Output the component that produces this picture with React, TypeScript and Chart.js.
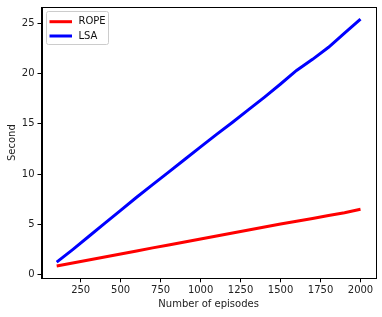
import React, { useEffect, useRef } from "react";
import { Chart, registerables } from "chart.js";

Chart.register(...registerables);

const episodes = [100, 200, 300, 400, 500, 600, 700, 800, 900, 1000, 1100, 1200, 1300, 1400, 1500, 1600, 1700, 1800, 1900, 2000];
const ropeSeconds = [0.88, 1.17, 1.47, 1.77, 2.07, 2.37, 2.67, 2.96, 3.25, 3.55, 3.85, 4.15, 4.45, 4.75, 5.05, 5.32, 5.6, 5.88, 6.17, 6.5];
const lsaSeconds = [1.25, 2.5, 3.8, 5.1, 6.4, 7.7, 8.95, 10.2, 11.45, 12.7, 13.95, 15.15, 16.4, 17.65, 18.95, 20.3, 21.4, 22.6, 24.0, 25.4];
const xTicks = [250, 500, 750, 1000, 1250, 1500, 1750, 2000];
const yTicks = [0, 5, 10, 15, 20, 25];
const seriesNames = ["ROPE", "LSA"];

const FONT = "'DejaVu Sans', sans-serif";

const framePlugin = {
  id: "frame",
  afterDatasetsDraw(chart: any) {
    const { ctx, chartArea } = chart;
    ctx.save();
    ctx.strokeStyle = "#000";
    ctx.lineWidth = 1;
    ctx.strokeRect(
      Math.round(chartArea.left) + 0.5,
      Math.round(chartArea.top) + 0.5,
      Math.round(chartArea.right - chartArea.left),
      Math.round(chartArea.bottom - chartArea.top)
    );
    // legend
    const x0 = Math.round(chartArea.left + 4.5) + 0.5;
    const y0 = Math.round(chartArea.top + 4) + 0.5;
    const w = 62;
    const h = 33;
    ctx.fillStyle = "rgba(255,255,255,0.8)";
    ctx.strokeStyle = "#ccc";
    ctx.lineWidth = 1;
    ctx.beginPath();
    const r = 2;
    ctx.moveTo(x0 + r, y0);
    ctx.arcTo(x0 + w, y0, x0 + w, y0 + h, r);
    ctx.arcTo(x0 + w, y0 + h, x0, y0 + h, r);
    ctx.arcTo(x0, y0 + h, x0, y0, r);
    ctx.arcTo(x0, y0, x0 + w, y0, r);
    ctx.closePath();
    ctx.fill();
    ctx.stroke();
    chart.data.datasets.forEach((ds: any, i: number) => {
      const ly = y0 + 10.2 + i * 14.3;
      ctx.strokeStyle = ds.borderColor;
      ctx.lineWidth = 3;
      ctx.beginPath();
      ctx.moveTo(x0 + 3, ly);
      ctx.lineTo(x0 + 25.5, ly);
      ctx.stroke();
      ctx.fillStyle = "#111";
      ctx.font = `10px ${FONT}`;
      ctx.textBaseline = "middle";
      ctx.textAlign = "left";
      ctx.fillText(ds.label, x0 + 32, ly);
    });
    ctx.restore();
  },
};

export default function App() {
  const ref = useRef<HTMLCanvasElement | null>(null);
  useEffect(() => {
    document.body.style.margin = "0";
    const chart = new Chart(ref.current as HTMLCanvasElement, {
      type: "line",
      data: {
        labels: episodes,
        datasets: [
          {
            label: seriesNames[0],
            data: episodes.map((x, i) => ({ x, y: ropeSeconds[i] })),
            borderColor: "#ff0000",
            backgroundColor: "#ff0000",
            borderWidth: 3,
            pointRadius: 0,
            tension: 0,
          },
          {
            label: seriesNames[1],
            data: episodes.map((x, i) => ({ x, y: lsaSeconds[i] })),
            borderColor: "#0000ff",
            backgroundColor: "#0000ff",
            borderWidth: 3,
            pointRadius: 0,
            tension: 0,
          },
        ],
      },
      options: {
        animation: false,
        responsive: false,
        maintainAspectRatio: false,
        layout: { padding: { top: 7, right: 6.3, left: 0, bottom: 7 } },
        plugins: { legend: { display: false }, tooltip: { enabled: false } },
        scales: {
          x: {
            type: "linear",
            min: 5,
            max: 2095,
            afterBuildTicks: (s: any) => {
              s.ticks = xTicks.map((v) => ({ value: v }));
            },
            afterFit: (s: any) => {
              s.height = 31.7;
              s.paddingLeft = 0;
              s.paddingRight = 0;
            },
            grid: { drawOnChartArea: false, drawTicks: true, tickLength: 4, color: "#000" },
            border: { display: true, color: "#000" },
            ticks: { color: "#222", font: { family: FONT, size: 10 }, padding: 2, maxRotation: 0, autoSkip: false, callback: (v: any) => String(v) },
            title: { display: true, text: "Number of episodes", color: "#222", font: { family: FONT, size: 10 }, padding: { top: 1, bottom: 0 } },
          },
          y: {
            type: "linear",
            min: -0.35,
            max: 26.6,
            afterBuildTicks: (s: any) => {
              s.ticks = yTicks.map((v) => ({ value: v }));
            },
            afterFit: (s: any) => {
              s.width = 41.5;
              s.paddingTop = 0;
              s.paddingBottom = 0;
            },
            grid: { drawOnChartArea: false, drawTicks: true, tickLength: 4, color: "#000" },
            border: { display: true, color: "#000" },
            ticks: { color: "#222", font: { family: FONT, size: 10 }, padding: 3, callback: (v: any) => String(v) },
            title: { display: true, text: "Second", color: "#222", font: { family: FONT, size: 10 }, padding: { top: 6, bottom: 2 } },
          },
        },
      },
      plugins: [framePlugin],
    } as any);
    return () => chart.destroy();
  }, []);
  return (
    <div style={{ position: "absolute", left: 0, top: 0, width: 382, height: 317, background: "#fff" }}>
      <canvas ref={ref} width={382} height={317} style={{ width: 382, height: 317, display: "block" }} />
    </div>
  );
}
